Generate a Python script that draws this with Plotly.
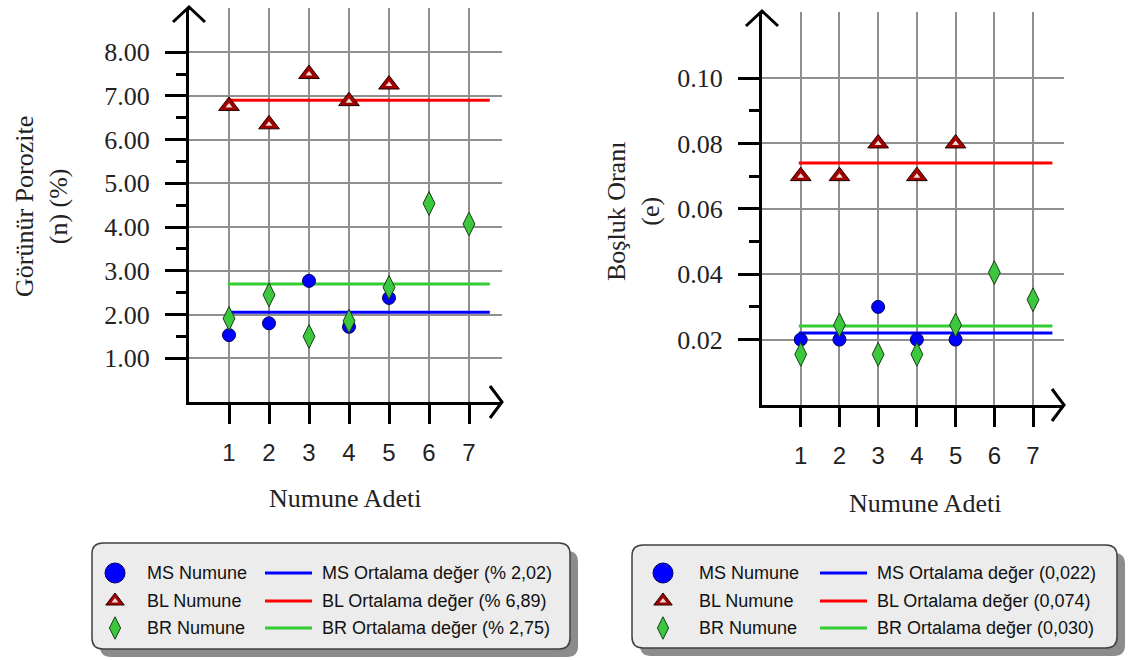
import plotly.graph_objects as go

# ---------------- data ----------------
sample_x = [1, 2, 3, 4, 5, 6, 7]
x_ticks = [1, 2, 3, 4, 5, 6, 7]

# Left chart: apparent porosity (n) (%)
ms_n = [1.53, 1.80, 2.77, 1.72, 2.38]
bl_n = [6.77, 6.35, 7.50, 6.88, 7.26]
br_n = [1.91, 2.45, 1.50, 1.85, 2.62, 4.54, 4.07]
mean_n = [2.05, 6.90, 2.70]          # MS, BL, BR average lines
mean_span_n = [0.97, 7.52]
yt_n = [1, 2, 3, 4, 5, 6, 7, 8]
yt_n_text = ["1.00", "2.00", "3.00", "4.00", "5.00", "6.00", "7.00", "8.00"]
ym_n = [1.5, 2.5, 3.5, 4.5, 5.5, 6.5, 7.5]

# Right chart: void ratio (e)
ms_e = [0.020, 0.020, 0.030, 0.020, 0.020]
bl_e = [0.070, 0.070, 0.080, 0.070, 0.080]
br_e = [0.0155, 0.0245, 0.0155, 0.0155, 0.0245, 0.0405, 0.0322]
mean_e = [0.022, 0.074, 0.0242]
mean_span_e = [0.95, 7.50]
yt_e = [0.02, 0.04, 0.06, 0.08, 0.10]
yt_e_text = ["0.02", "0.04", "0.06", "0.08", "0.10"]
ym_e = [0.03, 0.05, 0.07, 0.09]

series_names = ["MS Numune", "BL Numune", "BR Numune"]
mean_names_n = ["MS Ortalama değer (% 2,02)", "BL Ortalama değer (% 6,89)", "BR Ortalama değer (% 2,75)"]
mean_names_e = ["MS Ortalama değer (0,022)", "BL Ortalama değer (0,074)", "BR Ortalama değer (0,030)"]

# ---------------- styling / layout constants ----------------
W, H = 1131, 660
SERIF = "Liberation Serif, Times New Roman, serif"
SANS = "Liberation Sans, Arial, sans-serif"
LINE_COLORS = ["#0000ff", "#ff0000", "#33cc33"]

# pixel boxes of the two plot areas
L = dict(x0=189, x1=502, yb=402, yt=8, xr=7.825, yr=9.01)
R = dict(x0=762, x1=1064, yb=405, yt=12, xr=7.80, yr=0.1202)

def px(x):
    return x / W

def py(y):
    return 1 - y / H

circle_st = dict(symbol="circle", size=13, color="#0000ff", line=dict(color="#000060", width=1))
tri_outer_st = dict(symbol="triangle-up", size=18, color="#a30000", line=dict(color="#200000", width=1))
tri_inner_st = dict(symbol="triangle-up", size=6, color="#e8dede", line=dict(width=0))
diamond_st = dict(symbol="diamond-tall", size=17, color="#3cc83c", line=dict(color="#1a3a1a", width=1))

fig = go.Figure()

def add_panel(xa, ya, ms, bl, br, means, span):
    for m, c in zip(means, LINE_COLORS):
        fig.add_trace(go.Scatter(x=span, y=[m, m], mode="lines",
                                 line=dict(color=c, width=3),
                                 xaxis=xa, yaxis=ya, showlegend=False, hoverinfo="skip"))
    for vals, st in zip([ms, bl, bl, br], [circle_st, tri_outer_st, tri_inner_st, diamond_st]):
        fig.add_trace(go.Scatter(x=sample_x[:len(vals)], y=vals, mode="markers",
                                 marker=st, xaxis=xa, yaxis=ya, showlegend=False,
                                 cliponaxis=False))

add_panel("x", "y", ms_n, bl_n, br_n, mean_n, mean_span_n)
add_panel("x2", "y2", ms_e, bl_e, br_e, mean_e, mean_span_e)

# ---------------- legends (drawn on a pixel overlay axis) ----------------
legends = [
    dict(box=(92, 543, 570, 649), mk_x=115, t1_x=145, l_x=(265, 312), t2_x=320,
         rows=[573, 601, 628], names2=mean_names_n),
    dict(box=(632, 545, 1117, 648), mk_x=663, t1_x=697, l_x=(820, 867), t2_x=875,
         rows=[573, 601, 628], names2=mean_names_e),
]
leg_marker_styles = [
    [dict(symbol="circle", size=20, color="#0000ff", line=dict(color="#000060", width=1))],
    [dict(symbol="triangle-up", size=16, color="#a30000", line=dict(color="#200000", width=1)),
     dict(symbol="triangle-up", size=6, color="#e8dede", line=dict(width=0))],
    [dict(symbol="diamond-tall", size=16, color="#3cc83c", line=dict(color="#1a3a1a", width=1))],
]

def rrect(x0, y0, x1, y1, r):
    return (f"M {x0+r},{y0} H {x1-r} Q {x1},{y0} {x1},{y0+r} V {y1-r} "
            f"Q {x1},{y1} {x1-r},{y1} H {x0+r} Q {x0},{y1} {x0},{y1-r} V {y0+r} "
            f"Q {x0},{y0} {x0+r},{y0} Z")

shapes = []
annotations = []
for lg in legends:
    x0, y0, x1, y1 = lg["box"]
    shapes.append(dict(type="path", path=rrect(x0 + 8, y0 + 8, x1 + 8, y1 + 8, 11),
                       xref="x3", yref="y3", fillcolor="#8c8c8c", line=dict(width=0), layer="below"))
    shapes.append(dict(type="path", path=rrect(x0, y0, x1, y1, 11),
                       xref="x3", yref="y3", fillcolor="#ececec",
                       line=dict(color="#404040", width=1.5), layer="below"))
    for i, yrow in enumerate(lg["rows"]):
        for st in leg_marker_styles[i]:
            fig.add_trace(go.Scatter(x=[lg["mk_x"]], y=[yrow], mode="markers",
                                     marker=st, xaxis="x3", yaxis="y3",
                                     showlegend=False, hoverinfo="skip"))
        shapes.append(dict(type="line", xref="x3", yref="y3",
                           x0=lg["l_x"][0], x1=lg["l_x"][1], y0=yrow, y1=yrow,
                           line=dict(color=LINE_COLORS[i], width=3)))
        annotations.append(dict(x=px(lg["t1_x"]), y=py(yrow), xref="paper", yref="paper",
                                text=series_names[i], showarrow=False, xanchor="left",
                                yanchor="middle", font=dict(family=SANS, size=18, color="#111")))
        annotations.append(dict(x=px(lg["t2_x"]), y=py(yrow), xref="paper", yref="paper",
                                text=lg["names2"][i], showarrow=False, xanchor="left",
                                yanchor="middle", font=dict(family=SANS, size=18, color="#111")))

# ---------------- axis arrows ----------------
for P in (L, R):
    tipx, tipy = P["x0"], P["yt"] - 1
    shapes.append(dict(type="path", xref="x3", yref="y3",
                       path=f"M {tipx-16},{tipy+15} L {tipx},{tipy} L {tipx+16},{tipy+15}",
                       line=dict(color="black", width=3)))
    shapes.append(dict(type="line", xref="x3", yref="y3", x0=tipx, x1=tipx, y0=tipy, y1=P["yt"] + 2,
                       line=dict(color="black", width=3)))
    ax_x, ax_y = P["x1"], P["yb"]
    shapes.append(dict(type="path", xref="x3", yref="y3",
                       path=f"M {ax_x-12},{ax_y-16} L {ax_x},{ax_y} L {ax_x-12},{ax_y+16}",
                       line=dict(color="black", width=3)))

# ---------------- axis titles ----------------
title_font = dict(family=SERIF, size=26, color="#222")
annotations += [
    dict(x=px(41), y=py(206), xref="paper", yref="paper", text="Görünür Porozite<br>(n) (%)",
         textangle=-90, showarrow=False, xanchor="center", yanchor="middle", font=title_font),
    dict(x=px(633), y=py(212), xref="paper", yref="paper", text="Boşluk Oranı<br>(e)",
         textangle=-90, showarrow=False, xanchor="center", yanchor="middle", font=title_font),
    dict(x=px(345), y=py(498), xref="paper", yref="paper", text="Numune Adeti",
         showarrow=False, xanchor="center", yanchor="middle", font=title_font),
    dict(x=px(925), y=py(503), xref="paper", yref="paper", text="Numune Adeti",
         showarrow=False, xanchor="center", yanchor="middle", font=title_font),
]

def xaxis_cfg(P, anchor):
    return dict(domain=[px(P["x0"]), px(P["x1"])], range=[0, P["xr"]], anchor=anchor,
                tickmode="array", tickvals=x_ticks, ticktext=[str(t) for t in x_ticks],
                showgrid=True, gridcolor="#8f8f8f", gridwidth=1.5, zeroline=False,
                showline=True, linecolor="black", linewidth=3,
                ticks="outside", ticklen=19, tickwidth=3, tickcolor="black",
                ticklabelstandoff=8,
                tickfont=dict(family=SANS, size=24, color="#222"), fixedrange=True)

def yaxis_cfg(P, anchor, tv, tt, mv):
    return dict(domain=[py(P["yb"]), py(P["yt"])], range=[0, P["yr"]], anchor=anchor,
                tickmode="array", tickvals=tv, ticktext=tt,
                showgrid=True, gridcolor="#8f8f8f", gridwidth=1.5, zeroline=False,
                showline=True, linecolor="black", linewidth=3,
                ticks="outside", ticklen=21, tickwidth=3, tickcolor="black",
                ticklabelstandoff=10,
                minor=dict(tickmode="array", tickvals=mv, ticks="outside", ticklen=10,
                           tickwidth=3, tickcolor="black", showgrid=False),
                tickfont=dict(family=SERIF, size=26, color="#222"), fixedrange=True)

fig.update_layout(
    width=W, height=H, margin=dict(l=0, r=0, t=0, b=0),
    paper_bgcolor="white", plot_bgcolor="rgba(0,0,0,0)",
    xaxis=xaxis_cfg(L, "y"),
    yaxis=yaxis_cfg(L, "x", yt_n, yt_n_text, ym_n),
    xaxis2=xaxis_cfg(R, "y2"),
    yaxis2=yaxis_cfg(R, "x2", yt_e, yt_e_text, ym_e),
    xaxis3=dict(domain=[0, 1], range=[0, W], anchor="y3", visible=False, fixedrange=True),
    yaxis3=dict(domain=[0, 1], range=[H, 0], anchor="x3", visible=False, fixedrange=True),
    shapes=shapes, annotations=annotations, showlegend=False,
)

fig.write_html("out.html", config={"displayModeBar": False},
               post_script="document.body.style.margin='0px';document.body.style.overflow='hidden';")
